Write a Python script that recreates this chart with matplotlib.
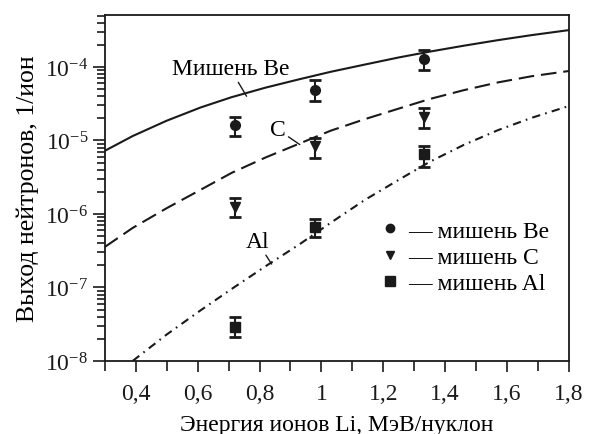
import numpy as np
import matplotlib
matplotlib.use("Agg")
import matplotlib.pyplot as plt
from matplotlib.ticker import FixedLocator, FuncFormatter, LogLocator, NullFormatter
from matplotlib.lines import Line2D

plt.rcParams["font.family"] = ["Liberation Serif", "DejaVu Serif"]
plt.rcParams["mathtext.fontset"] = "custom"
plt.rcParams["mathtext.rm"] = "Liberation Serif"
plt.rcParams["mathtext.it"] = "Liberation Serif:italic"

# calculated curves
be_x = [0.30, 0.39, 0.50, 0.61, 0.71, 0.82, 0.93, 1.03, 1.14, 1.25, 1.35, 1.46, 1.57, 1.68, 1.80]
be_y = [7.24e-6, 1.15e-5, 1.86e-5, 2.82e-5, 3.89e-5, 5.25e-5, 6.84e-5, 8.61e-5, 1.08e-4, 1.35e-4,
        1.62e-4, 1.95e-4, 2.32e-4, 2.72e-4, 3.18e-4]
c_x = [0.30, 0.39, 0.50, 0.61, 0.71, 0.82, 0.93, 1.03, 1.14, 1.25, 1.35, 1.46, 1.57, 1.68, 1.80]
c_y = [3.56e-7, 6.46e-7, 1.20e-6, 2.14e-6, 3.63e-6, 5.89e-6, 9.12e-6, 1.36e-5, 1.95e-5, 2.72e-5,
       3.67e-5, 4.84e-5, 6.17e-5, 7.50e-5, 8.83e-5]
al_x = [0.39, 0.50, 0.61, 0.71, 0.82, 0.93, 1.03, 1.14, 1.25, 1.35, 1.46, 1.57, 1.68, 1.80]
al_y = [1.0e-8, 2.29e-8, 4.9e-8, 9.55e-8, 1.95e-7, 3.89e-7, 7.59e-7, 1.55e-6, 2.92e-6, 5.13e-6,
        8.71e-6, 1.38e-5, 2.04e-5, 2.95e-5]

# measured points
e_pts = [0.72, 0.98, 1.33]
be_m = [1.6e-5, 4.9e-5, 1.28e-4]
be_lo = [1.15e-5, 3.45e-5, 9.1e-5]
be_hi = [2.1e-5, 6.65e-5, 1.7e-4]
c_m = [1.24e-6, 8.3e-6, 2.09e-5]
c_lo = [9.1e-7, 5.7e-6, 1.48e-5]
c_hi = [1.65e-6, 1.07e-5, 2.77e-5]
al_m = [2.86e-8, 6.65e-7, 6.45e-6]
al_lo = [2.09e-8, 4.87e-7, 4.4e-6]
al_hi = [3.9e-8, 8.55e-7, 8.3e-6]

xticks = [0.4, 0.6, 0.8, 1.0, 1.2, 1.4, 1.6, 1.8]
xminor = [0.3, 0.5, 0.7, 0.9, 1.1, 1.3, 1.5, 1.7]

fs = 17
fig = plt.figure(figsize=(5.89, 4.35), dpi=100)
ax = fig.add_axes([0.178, 0.168, 0.788, 0.795])

lc = "#1a1a1a"
ax.plot(be_x, be_y, color=lc, lw=1.5, ls="-")
ax.plot(c_x, c_y, color=lc, lw=1.5, ls=(0, (7.5, 3.3)))
ax.plot(al_x, al_y, color=lc, lw=1.5, ls=(0, (4.0, 2.5, 0.8, 2.5)))

def pts(y, lo, hi, mk, ms):
    yerr = [np.array(y) - np.array(lo), np.array(hi) - np.array(y)]
    ax.errorbar(e_pts, y, yerr=yerr, fmt=mk, color=lc, ms=ms, elinewidth=1.5,
                capsize=4.5, capthick=2.0)

pts(be_m, be_lo, be_hi, "o", 7)
pts(c_m, c_lo, c_hi, "v", 7.5)
pts(al_m, al_lo, al_hi, "s", 7.5)

ax.set_yscale("log")
ax.set_xlim(0.3, 1.8)
ax.set_ylim(1e-8, 5.09e-4)

ax.xaxis.set_major_locator(FixedLocator(xticks))
ax.xaxis.set_minor_locator(FixedLocator(xminor))
ax.xaxis.set_major_formatter(FuncFormatter(lambda v, p: f"{v:g}".replace(".", ",")))
ax.yaxis.set_major_locator(LogLocator(base=10, numticks=10))
ax.yaxis.set_minor_locator(LogLocator(base=10, subs=np.arange(2, 10), numticks=20))
ax.yaxis.set_minor_formatter(NullFormatter())

ax.tick_params(axis="both", which="both", direction="out", top=False, right=False,
               labelsize=fs, width=1.2, colors=lc)
ax.tick_params(axis="x", which="major", length=8, pad=8)
ax.tick_params(axis="x", which="minor", length=7)
ax.tick_params(axis="y", which="major", length=9, pad=3)
ax.tick_params(axis="y", which="minor", length=5.5)
for s in ax.spines.values():
    s.set_linewidth(1.3)
    s.set_color(lc)

ax.set_xlabel("Энергия ионов Li, МэВ/нуклон", fontsize=fs, labelpad=7)
ax.set_ylabel("Выход нейтронов, 1/ион", fontsize=18.5, labelpad=4)

arw = dict(arrowstyle="-", color=lc, lw=1.0, shrinkA=0, shrinkB=0)
ax.annotate("Мишень Be", xy=(0.758, 4.0e-5), xytext=(0.706, 9.4e-5), fontsize=fs,
            ha="center", va="center", arrowprops=arw)
ax.annotate("C", xy=(0.930, 8.8e-6), xytext=(0.859, 1.41e-5), fontsize=fs,
            ha="center", va="center", arrowprops=arw)
ax.annotate("Al", xy=(0.839, 2.08e-7), xytext=(0.793, 4.17e-7), fontsize=fs,
            ha="center", va="center", arrowprops=arw)

hs = [Line2D([], [], ls="none", marker="o", color=lc, ms=6),
      Line2D([], [], ls="none", marker="v", color=lc, ms=5.5),
      Line2D([], [], ls="none", marker="s", color=lc, ms=6.5)]
ax.legend(hs, ["— мишень Be", "— мишень C", "— мишень Al"], loc="upper left",
          bbox_to_anchor=(0.588, 0.407), frameon=False, fontsize=fs, handlelength=1.0,
          handletextpad=0.3, labelspacing=0.2, borderpad=0, borderaxespad=0)

fig.savefig("out.png", dpi=100)
